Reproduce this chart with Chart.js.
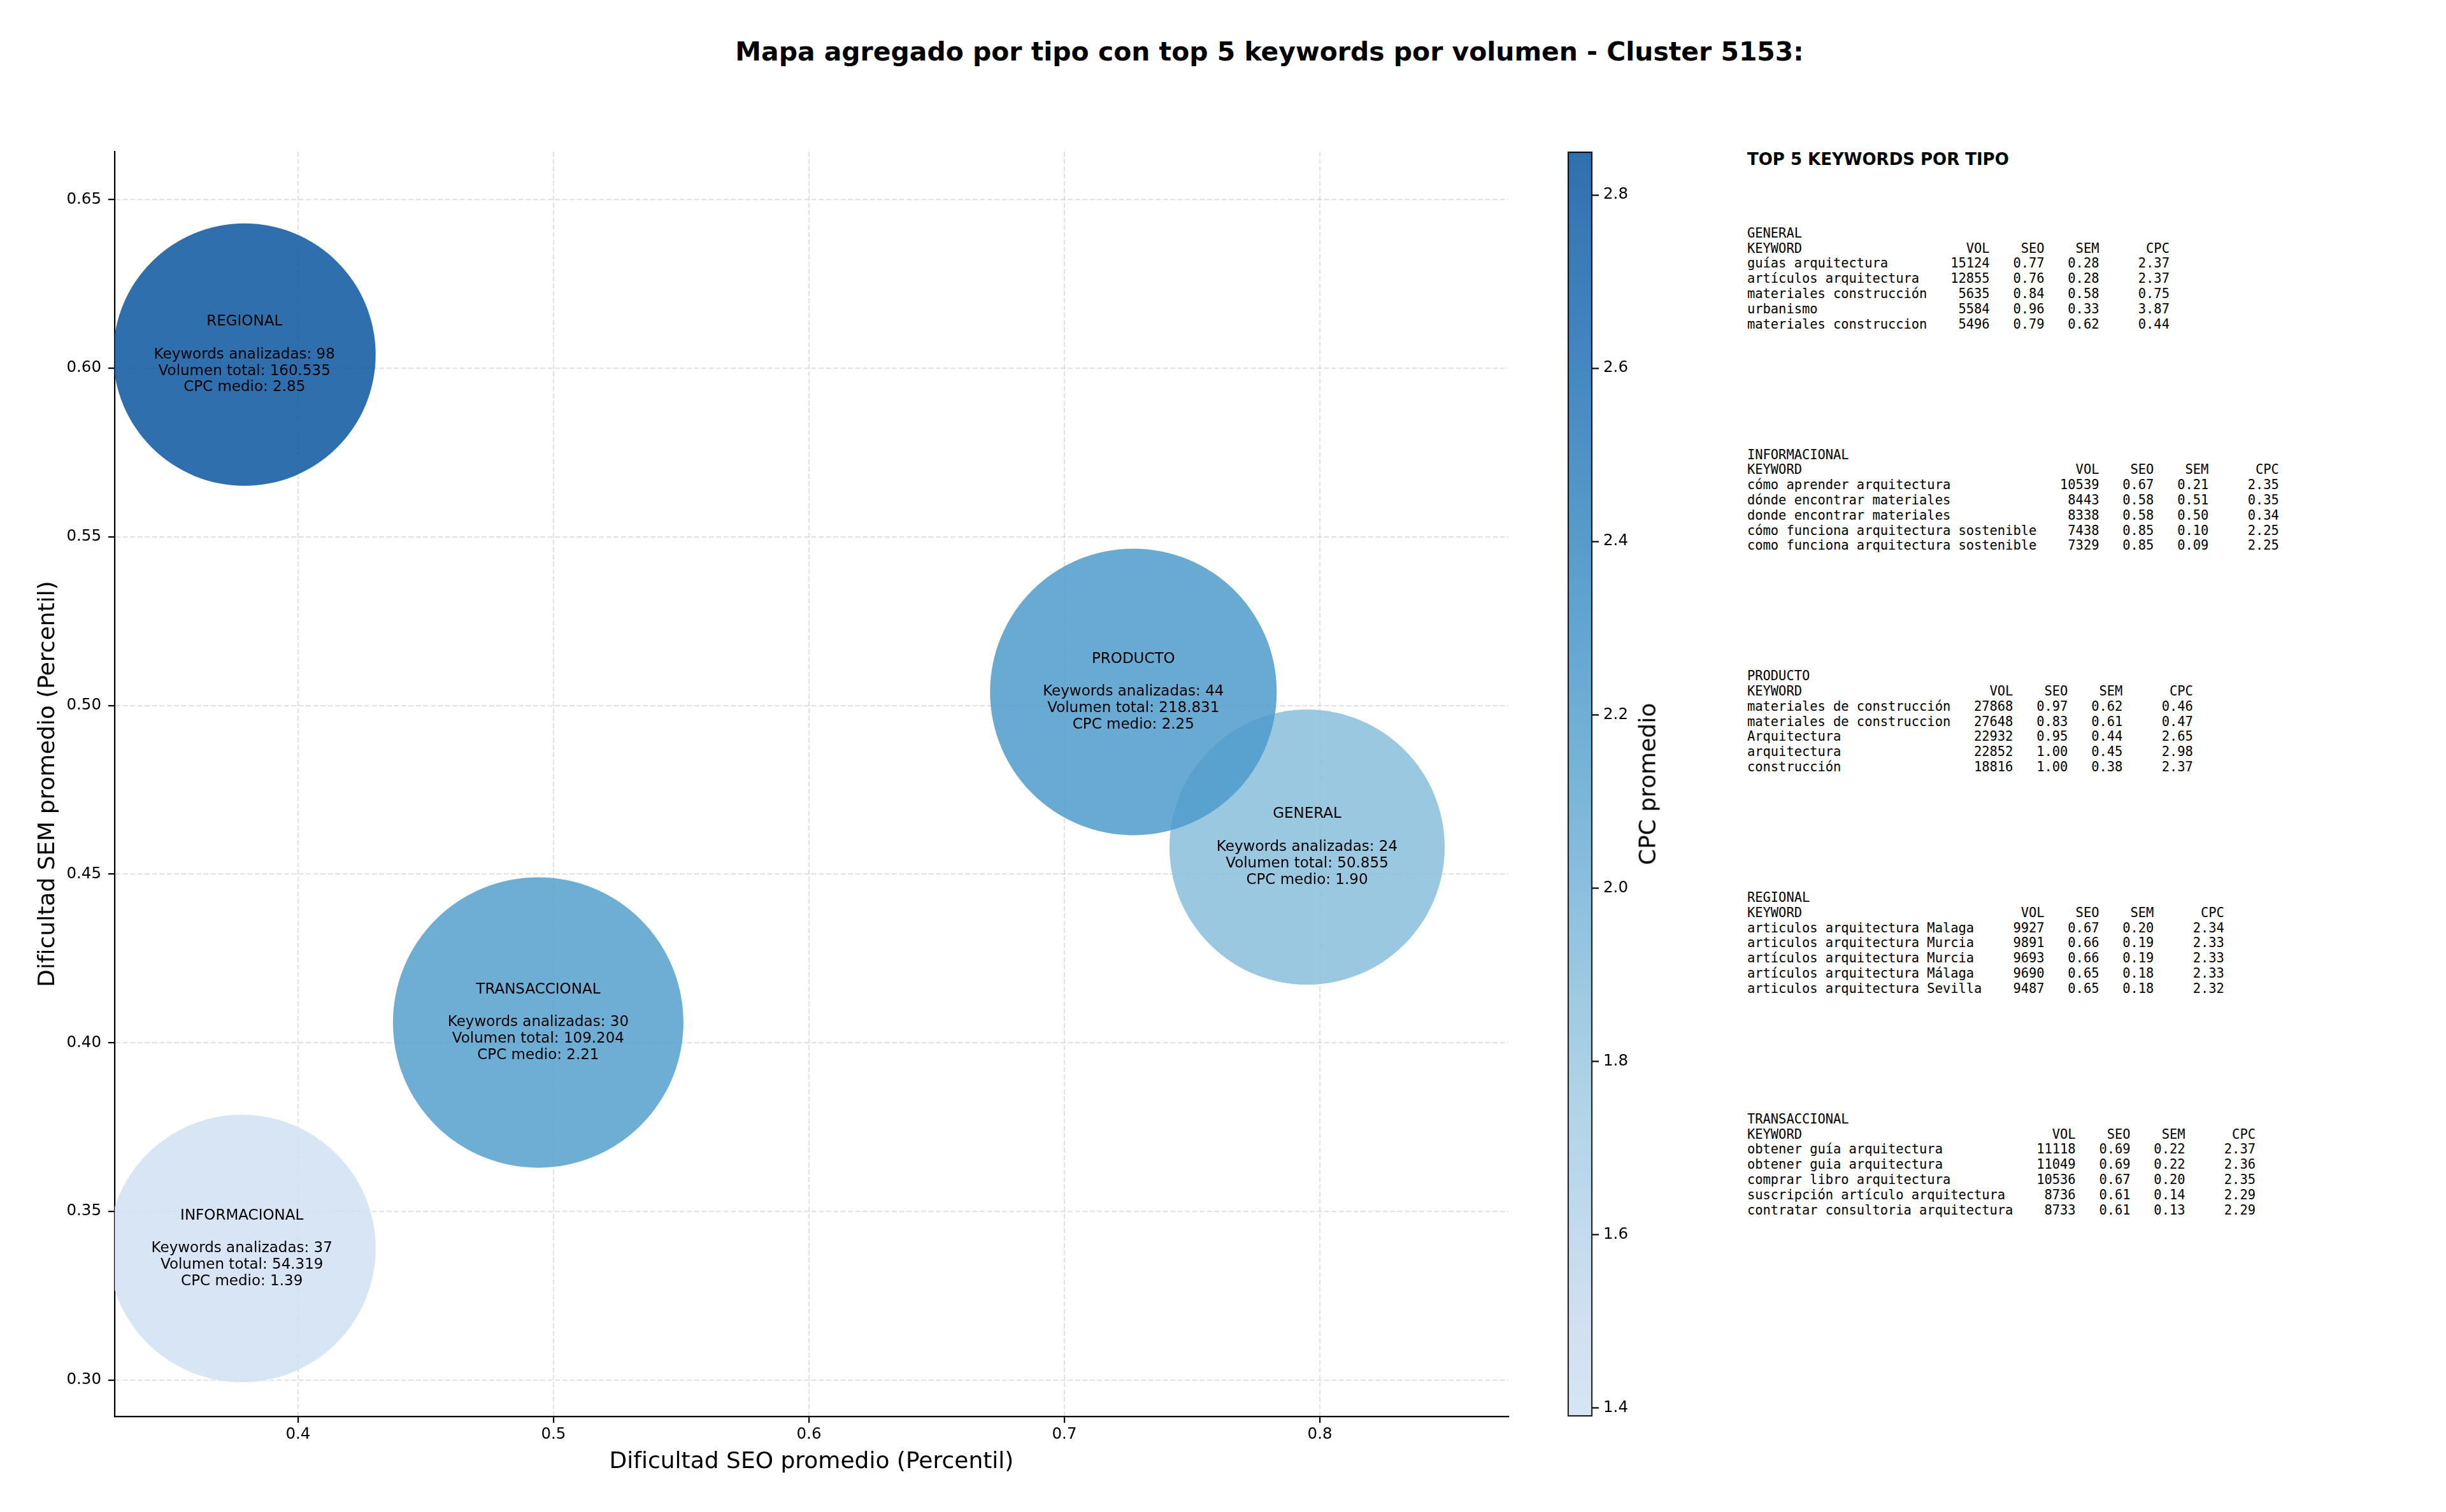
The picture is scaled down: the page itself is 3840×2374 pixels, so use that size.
<!DOCTYPE html>
<html lang="es">
<head>
<meta charset="UTF-8">
<title>Mapa agregado por tipo - Cluster 5153</title>
<script src="https://cdn.jsdelivr.net/npm/chart.js"></script>
<style>
    html, body { margin: 0; padding: 0; background: #fff; }
    body { width: 3840px; height: 2374px; position: relative; overflow: hidden; font-family: "DejaVu Sans", sans-serif; color: #000; }
    #mainChart { position: absolute; left: 0; top: 0; }
    #cbarChart { position: absolute; left: 2440px; top: 0; }
    .titulo { position: absolute; left: 1993px; top: 81px; transform: translate(-50%, -50%); font-weight: bold; font-size: 40.9px; white-space: nowrap; }
    .cbar-label { position: absolute; left: 2586px; top: 1231px; transform: translate(-50%, -50%) rotate(-90deg); font-size: 36px; white-space: nowrap; }
    .panel-titulo { position: absolute; left: 2743px; top: 250px; transform: translateY(-50%); font-weight: bold; font-size: 26px; white-space: nowrap; }
    pre.bloque { position: absolute; left: 2743px; margin: 0; font-family: "DejaVu Sans Mono", monospace; font-size: 20.4px; line-height: 23.8px; }
</style>
</head>
<body>
<div class="titulo">Mapa agregado por tipo con top 5 keywords por volumen - Cluster 5153:</div>
<canvas id="mainChart" width="2440" height="2374"></canvas>
<canvas id="cbarChart" width="300" height="2374"></canvas>
<div class="cbar-label">CPC promedio</div>
<div class="panel-titulo">TOP 5 KEYWORDS POR TIPO</div>
<div id="panel"></div>

<script>
    // datos agregados por tipo
    const tipos = ['GENERAL', 'INFORMACIONAL', 'PRODUCTO', 'REGIONAL', 'TRANSACCIONAL'];
    const seoPromedio = [0.795, 0.378, 0.727, 0.379, 0.494];
    const semPromedio = [0.458, 0.339, 0.504, 0.604, 0.406];
    const cpcMedio = [1.90, 1.39, 2.25, 2.85, 2.21];
    const keywordsAnalizadas = [24, 37, 44, 98, 30];
    const volumenTotal = [50855, 54319, 218831, 160535, 109204];
    const tamanoBurbuja = [216, 210, 225, 206, 228];

    // top 5 keywords por tipo: keyword, vol, seo, sem, cpc
    const topGeneral = [
        ['guías arquitectura', 15124, 0.77, 0.28, 2.37],
        ['artículos arquitectura', 12855, 0.76, 0.28, 2.37],
        ['materiales construcción', 5635, 0.84, 0.58, 0.75],
        ['urbanismo', 5584, 0.96, 0.33, 3.87],
        ['materiales construccion', 5496, 0.79, 0.62, 0.44]
    ];
    const topInformacional = [
        ['cómo aprender arquitectura', 10539, 0.67, 0.21, 2.35],
        ['dónde encontrar materiales', 8443, 0.58, 0.51, 0.35],
        ['donde encontrar materiales', 8338, 0.58, 0.50, 0.34],
        ['cómo funciona arquitectura sostenible', 7438, 0.85, 0.10, 2.25],
        ['como funciona arquitectura sostenible', 7329, 0.85, 0.09, 2.25]
    ];
    const topProducto = [
        ['materiales de construcción', 27868, 0.97, 0.62, 0.46],
        ['materiales de construccion', 27648, 0.83, 0.61, 0.47],
        ['Arquitectura', 22932, 0.95, 0.44, 2.65],
        ['arquitectura', 22852, 1.00, 0.45, 2.98],
        ['construcción', 18816, 1.00, 0.38, 2.37]
    ];
    const topRegional = [
        ['articulos arquitectura Malaga', 9927, 0.67, 0.20, 2.34],
        ['articulos arquitectura Murcia', 9891, 0.66, 0.19, 2.33],
        ['artículos arquitectura Murcia', 9693, 0.66, 0.19, 2.33],
        ['artículos arquitectura Málaga', 9690, 0.65, 0.18, 2.33],
        ['articulos arquitectura Sevilla', 9487, 0.65, 0.18, 2.32]
    ];
    const topTransaccional = [
        ['obtener guía arquitectura', 11118, 0.69, 0.22, 2.37],
        ['obtener guia arquitectura', 11049, 0.69, 0.22, 2.36],
        ['comprar libro arquitectura', 10536, 0.67, 0.20, 2.35],
        ['suscripción artículo arquitectura', 8736, 0.61, 0.14, 2.29],
        ['contratar consultoria arquitectura', 8733, 0.61, 0.13, 2.29]
    ];

    // rangos de ejes
    const xMin = 0.3282, xMax = 0.8738;
    const yMin = 0.2892, yMax = 0.6642;
    const cpcMin = 1.39, cpcMax = 2.85;

    // colormap Blues (matplotlib)
    const blues = ['#f7fbff', '#deebf7', '#c6dbef', '#9ecae1', '#6baed6', '#4292c6', '#2171b5', '#08519c', '#08306b'];
    function hexRgb(h) {
        return [parseInt(h.slice(1, 3), 16), parseInt(h.slice(3, 5), 16), parseInt(h.slice(5, 7), 16)];
    }
    function colorCpc(v, alpha) {
        let t = 0.2 + (v - cpcMin) / (cpcMax - cpcMin) * 0.655;
        t = Math.min(1, Math.max(0, t));
        const pos = t * (blues.length - 1);
        const i = Math.min(blues.length - 2, Math.floor(pos));
        const f = pos - i;
        const a = hexRgb(blues[i]), b = hexRgb(blues[i + 1]);
        const c = a.map((ai, k) => Math.round(ai + (b[k] - ai) * f));
        return `rgba(${c[0]}, ${c[1]}, ${c[2]}, ${alpha})`;
    }

    function formatoMiles(v) {
        return String(v).replace(/\B(?=(\d{3})+(?!\d))/g, '.');
    }

    // texto dentro de las burbujas
    const etiquetasBurbujas = {
        id: 'etiquetasBurbujas',
        afterDatasetsDraw(chart) {
            const ctx = chart.ctx;
            const meta = chart.getDatasetMeta(0);
            ctx.save();
            ctx.font = '23px "DejaVu Sans"';
            ctx.fillStyle = '#000';
            ctx.textAlign = 'center';
            ctx.textBaseline = 'middle';
            meta.data.forEach((pt, i) => {
                const lineas = [
                    tipos[i],
                    '',
                    `Keywords analizadas: ${keywordsAnalizadas[i]}`,
                    `Volumen total: ${formatoMiles(volumenTotal[i])}`,
                    `CPC medio: ${cpcMedio[i].toFixed(2)}`
                ];
                lineas.forEach((l, k) => ctx.fillText(l, pt.x, pt.y + (k - 2) * 25.8));
            });
            ctx.restore();
        }
    };

    const fuenteTicks = { family: 'DejaVu Sans', size: 24.5 };
    const fuenteTitulos = { family: 'DejaVu Sans', size: 36 };
    const gridBase = {
        color: 'rgba(176, 176, 176, 0.35)',
        lineWidth: 2.2,
        tickLength: 10,
        tickColor: '#000',
        tickWidth: 2.2,
        tickBorderDash: []
    };

    new Chart(document.getElementById('mainChart'), {
        type: 'bubble',
        data: {
            datasets: [{
                data: tipos.map((t, i) => ({ x: seoPromedio[i], y: semPromedio[i], r: tamanoBurbuja[i] })),
                backgroundColor: cpcMedio.map(v => colorCpc(v, 0.85)),
                borderWidth: 0
            }]
        },
        options: {
            responsive: false,
            animation: false,
            events: [],
            layout: { autoPadding: false, padding: { left: 0, right: 72, top: 238, bottom: 0 } },
            plugins: { legend: { display: false }, tooltip: { enabled: false } },
            scales: {
                x: {
                    type: 'linear',
                    min: xMin,
                    max: xMax,
                    ticks: { stepSize: 0.1, includeBounds: false, callback: v => v.toFixed(1), font: fuenteTicks, color: '#000', padding: 4 },
                    grid: gridBase,
                    border: { color: '#000', width: 2.2, dash: [8, 3.5] },
                    title: { display: true, text: 'Dificultad SEO promedio (Percentil)', font: fuenteTitulos, color: '#000', padding: { top: 0, bottom: 57 } },
                    afterFit: s => { s.height = 150; }
                },
                y: {
                    type: 'linear',
                    min: yMin,
                    max: yMax,
                    ticks: { stepSize: 0.05, includeBounds: false, callback: v => v.toFixed(2), font: fuenteTicks, color: '#000', padding: 11 },
                    grid: gridBase,
                    border: { color: '#000', width: 2.2, dash: [8, 3.5] },
                    title: { display: true, text: 'Dificultad SEM promedio (Percentil)', font: fuenteTitulos, color: '#000', padding: { top: 54, bottom: 0 } },
                    afterFit: s => { s.width = 180; }
                }
            }
        },
        plugins: [etiquetasBurbujas]
    });

    // barra de color
    function gradienteCpc(c) {
        const area = c.chart.chartArea;
        if (!area) return colorCpc(cpcMax, 0.85);
        const g = c.chart.ctx.createLinearGradient(0, area.bottom, 0, area.top);
        for (let k = 0; k <= 40; k++) {
            g.addColorStop(k / 40, colorCpc(cpcMin + (cpcMax - cpcMin) * k / 40, 0.85));
        }
        return g;
    }

    new Chart(document.getElementById('cbarChart'), {
        type: 'bar',
        data: {
            labels: ['CPC'],
            datasets: [{
                data: [[cpcMin, cpcMax]],
                backgroundColor: gradienteCpc,
                borderColor: '#000',
                borderWidth: 2,
                borderSkipped: false,
                barPercentage: 1,
                categoryPercentage: 1
            }]
        },
        options: {
            responsive: false,
            animation: false,
            events: [],
            layout: { autoPadding: false, padding: { left: 21, right: 0, top: 238, bottom: 150 } },
            plugins: { legend: { display: false }, tooltip: { enabled: false } },
            scales: {
                x: { display: false },
                y: {
                    position: 'right',
                    min: cpcMin,
                    max: cpcMax,
                    ticks: { stepSize: 0.2, includeBounds: false, callback: v => v.toFixed(1), font: fuenteTicks, color: '#000', padding: 7 },
                    grid: { drawOnChartArea: false, tickLength: 10, tickColor: '#000', tickWidth: 2.2 },
                    border: { display: false },
                    afterFit: s => { s.width = 240; }
                }
            }
        }
    });

    // panel de texto con top keywords
    function bloque(nombre, filas) {
        const w = Math.max(...filas.map(f => f[0].length)) + 2;
        let txt = nombre + '\n' + 'KEYWORD'.padEnd(w) + 'VOL'.padStart(6) + 'SEO'.padStart(7) + 'SEM'.padStart(7) + 'CPC'.padStart(9);
        filas.forEach(f => {
            txt += '\n' + f[0].padEnd(w) + String(f[1]).padStart(6) + f[2].toFixed(2).padStart(7) + f[3].toFixed(2).padStart(7) + f[4].toFixed(2).padStart(9);
        });
        return txt;
    }

    const bloques = [topGeneral, topInformacional, topProducto, topRegional, topTransaccional];
    const panel = document.getElementById('panel');
    bloques.forEach((filas, i) => {
        const pre = document.createElement('pre');
        pre.className = 'bloque';
        pre.style.top = (366.7 + i * 347.75 - 11.9) + 'px';
        pre.textContent = bloque(tipos[i], filas);
        panel.appendChild(pre);
    });
</script>
</body>
</html>
